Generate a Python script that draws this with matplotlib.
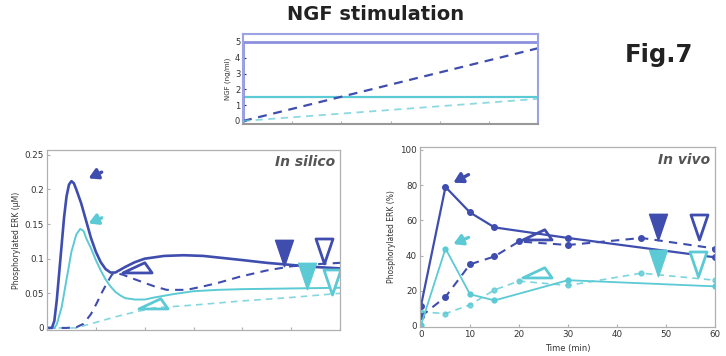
import matplotlib
matplotlib.use("Agg")
import matplotlib.pyplot as plt
from matplotlib.path import Path
import numpy as np

DARK = "#3f4dae"
CYAN = "#5ccad4"
GRID = "#b0b0b0"
TXT = "#333333"

# ---------------- data ----------------
# NGF stimulation (ng/ml)
ngf_step_t = [0, 0, 60]
ngf_step_high = [0, 5, 5]
ngf_step_low = [0, 1.5, 1.5]
ngf_ramp_t = [0, 60]
ngf_ramp_high = [0, 4.6]
ngf_ramp_low = [0, 1.4]

# In silico (uM)
sil_dark_solid_t = [0, 1, 1.5, 2, 2.5, 3, 3.5, 4, 4.5, 5, 5.5, 6, 7, 8, 9, 10, 11, 12, 13, 14,
                    16, 18, 20, 24, 28, 32, 36, 40, 45, 50, 55, 60]
sil_dark_solid_v = [0, 0, 0.01, 0.04, 0.08, 0.12, 0.16, 0.19, 0.207, 0.212, 0.209, 0.2, 0.18, 0.155,
                    0.13, 0.11, 0.095, 0.085, 0.08, 0.08, 0.088, 0.095, 0.1, 0.104, 0.105, 0.104,
                    0.101, 0.098, 0.094, 0.091, 0.088, 0.086]
sil_cyan_solid_t = [0, 1.5, 2, 3, 4, 5, 6, 6.8, 7.5, 8, 9, 10, 11, 12, 13, 14, 15, 16, 18, 20,
                    22, 26, 30, 35, 40, 50, 60]
sil_cyan_solid_v = [0, 0, 0.005, 0.03, 0.07, 0.11, 0.135, 0.143, 0.14, 0.13, 0.115, 0.098, 0.083,
                    0.07, 0.06, 0.052, 0.047, 0.043, 0.041, 0.041, 0.044, 0.049, 0.053, 0.055,
                    0.056, 0.057, 0.058]
sil_dark_dash_t = [0, 4, 6, 7.5, 9, 10.2, 11.3, 12.3, 13.3, 14, 15.5, 17.7, 20, 22, 24.5, 28.6,
                   32, 35, 39.5, 45, 50, 55, 60]
sil_dark_dash_v = [0, 0, 0.001, 0.006, 0.02, 0.036, 0.052, 0.065, 0.077, 0.079, 0.077, 0.071,
                   0.065, 0.06, 0.055, 0.055, 0.06, 0.065, 0.074, 0.083, 0.089, 0.092, 0.094]
sil_cyan_dash_t = [0, 6, 10, 14, 18, 22, 30, 40, 50, 60]
sil_cyan_dash_v = [0, 0, 0.008, 0.016, 0.023, 0.029, 0.033, 0.039, 0.044, 0.05]

# In vivo (%)
viv_dark_solid_t = [0, 5, 10, 15, 30, 60]
viv_dark_solid_v = [11.5, 79, 64.5, 56, 50, 39]
viv_dark_dash_t = [0, 5, 10, 15, 20, 30, 45, 60]
viv_dark_dash_v = [5.5, 16.5, 35, 39.5, 48, 46, 50, 44]
viv_cyan_solid_t = [0, 5, 10, 15, 30, 60]
viv_cyan_solid_v = [0.5, 44, 18, 14.5, 26, 22.5]
viv_cyan_dash_t = [0, 5, 10, 15, 20, 30, 45, 60]
viv_cyan_dash_v = [8, 7, 12, 20.5, 25.5, 23, 30, 26]

# annotation markers: (t, value)
sil_down = {"dark_fill": (48.5, 0.108), "dark_open": (56.7, 0.111),
            "cyan_fill": (53.3, 0.075), "cyan_open": (58.3, 0.067)}
sil_left = {"dark": (18.4, 0.082), "cyan": (21.8, 0.030)}
sil_arrows = {"dark": ((11.2, 0.225), (8.5, 0.216)), "cyan": ((11.2, 0.159), (8.5, 0.151))}
viv_down = {"dark_fill": (48.4, 56), "dark_open": (56.7, 56.5),
            "cyan_fill": (48.3, 35.5), "cyan_open": (56.6, 35)}
viv_left = {"dark": (23.6, 50), "cyan": (23.6, 28.5)}
viv_arrows = {"dark": ((9.7, 86), (6.6, 81.4)), "cyan": ((9.7, 50.3), (6.6, 46.5))}

time_ticks = [0, 10, 20, 30, 40, 50, 60]

# ---------------- markers ----------------
down_tri = Path([(-0.68, 1), (0.68, 1), (0, -1), (-0.68, 1)],
                [Path.MOVETO, Path.LINETO, Path.LINETO, Path.CLOSEPOLY])
left_tri = Path([(-1, -0.1), (0.5, 0.6), (1, -0.1), (-1, -0.1)],
                [Path.MOVETO, Path.LINETO, Path.LINETO, Path.CLOSEPOLY])

fig = plt.figure(figsize=(7.26, 3.56), dpi=100)

# ---------------- top NGF panel ----------------
ax0 = fig.add_axes([243 / 726, 1 - 124 / 356, 295 / 726, 90 / 356])
ax0.plot(ngf_step_t, ngf_step_low, color=CYAN, lw=1.6)
ax0.plot(ngf_step_t, ngf_step_high, color="#8a90dc", lw=2.0)
ax0.plot(ngf_ramp_t, ngf_ramp_high, color=DARK, lw=1.6, ls=(0, (4, 3)))
ax0.plot(ngf_ramp_t, ngf_ramp_low, color=CYAN, lw=1.3, ls=(0, (4, 3)), alpha=0.7)
ax0.set_xlim(0, 60)
ax0.set_ylim(-0.19, 5.5)
ax0.set_xticks(time_ticks)
ax0.set_xticklabels([])
ax0.set_yticks([0, 1, 2, 3, 4, 5])
ax0.tick_params(axis="both", direction="in", length=2, labelsize=6, colors=TXT, pad=2)
ax0.tick_params(axis="x", colors=GRID)
for s in ["top", "left", "right"]:
    ax0.spines[s].set_color("#9da2e2")
    ax0.spines[s].set_linewidth(1.5)
ax0.spines["bottom"].set_color("#999999")
ax0.spines["bottom"].set_linewidth(1.5)
ax0.set_ylabel("NGF (ng/ml)", fontsize=5, color=TXT, labelpad=3)

fig.text(376 / 726, 1 - 15 / 356, "NGF stimulation", ha="center", va="center",
         fontsize=14, fontweight="bold", color="#222222")
fig.text(659 / 726, 1 - 55 / 356, "Fig.7", ha="center", va="center",
         fontsize=17.5, fontweight="bold", color="#222222")


def style_bottom(ax):
    for s in ax.spines.values():
        s.set_color(GRID)
        s.set_linewidth(0.9)
    ax.tick_params(axis="both", direction="in", length=2, labelsize=6.3, colors=TXT, pad=2)
    ax.tick_params(axis="both", color=GRID)


def add_marks(ax, downs, lefts, arrows):
    x, y = downs["dark_fill"]
    ax.plot([x], [y], marker=down_tri, ms=19, color=DARK, mec=DARK, ls="none")
    x, y = downs["dark_open"]
    ax.plot([x], [y], marker=down_tri, ms=18, mfc="white", mec=DARK, mew=2.0, ls="none")
    x, y = downs["cyan_fill"]
    ax.plot([x], [y], marker=down_tri, ms=19, color=CYAN, mec=CYAN, ls="none")
    x, y = downs["cyan_open"]
    ax.plot([x], [y], marker=down_tri, ms=18, mfc="white", mec=CYAN, mew=2.0, ls="none")
    x, y = lefts["dark"]
    ax.plot([x], [y], marker=left_tri, ms=21, mfc="none", mec=DARK, mew=2.0, ls="none")
    x, y = lefts["cyan"]
    ax.plot([x], [y], marker=left_tri, ms=21, mfc="none", mec=CYAN, mew=2.0, ls="none")
    for key, col in [("dark", DARK), ("cyan", CYAN)]:
        tail, tip = arrows[key]
        ax.annotate("", xy=tip, xytext=tail,
                    arrowprops=dict(arrowstyle="-|>,head_length=0.55,head_width=0.32",
                                    color=col, lw=2.4, shrinkA=0, shrinkB=0))


# ---------------- in silico ----------------
ax1 = fig.add_axes([47 / 726, 1 - 330 / 356, 293 / 726, 180 / 356])
ax1.plot(sil_cyan_dash_t, sil_cyan_dash_v, color=CYAN, lw=1.2, ls=(0, (4, 3)), alpha=0.75)
ax1.plot(sil_dark_dash_t, sil_dark_dash_v, color=DARK, lw=1.5, ls=(0, (4, 3)))
ax1.plot(sil_cyan_solid_t, sil_cyan_solid_v, color=CYAN, lw=1.4)
ax1.plot(sil_dark_solid_t, sil_dark_solid_v, color=DARK, lw=1.9)
add_marks(ax1, sil_down, sil_left, sil_arrows)
ax1.set_xlim(0, 60)
ax1.set_ylim(-0.003, 0.257)
ax1.set_xticks(time_ticks)
ax1.set_xticklabels([])
ax1.set_yticks([0, 0.05, 0.1, 0.15, 0.2, 0.25])
ax1.set_yticklabels(["0", "0.05", "0.1", "0.15", "0.2", "0.25"])
style_bottom(ax1)
ax1.set_ylabel("Phosphorylated ERK (\u03bcM)", fontsize=5.5, color=TXT, labelpad=3)
ax1.text(0.983, 0.933, "In silico", transform=ax1.transAxes, ha="right", va="center",
         fontsize=10, fontweight="bold", fontstyle="italic", color="#555555")

# ---------------- in vivo ----------------
ax2 = fig.add_axes([420 / 726, 1 - 327 / 356, 295 / 726, 180 / 356])
ax2.plot(viv_cyan_dash_t, viv_cyan_dash_v, color=CYAN, lw=1.2, ls=(0, (4, 3)), alpha=0.8,
         marker="o", ms=3.5)
ax2.plot(viv_dark_dash_t, viv_dark_dash_v, color=DARK, lw=1.5, ls=(0, (4, 3)),
         marker="o", ms=4)
ax2.plot(viv_cyan_solid_t, viv_cyan_solid_v, color=CYAN, lw=1.3, marker="o", ms=3.5)
ax2.plot(viv_dark_solid_t, viv_dark_solid_v, color=DARK, lw=1.6, marker="o", ms=4)
add_marks(ax2, viv_down, viv_left, viv_arrows)
ax2.set_xlim(-0.2, 60)
ax2.set_ylim(-0.6, 101.7)
ax2.set_xticks(time_ticks)
ax2.set_yticks([0, 20, 40, 60, 80, 100])
style_bottom(ax2)
ax2.set_ylabel("Phosphorylated ERK (%)", fontsize=5.5, color=TXT, labelpad=3)
ax2.set_xlabel("Time (min)", fontsize=6, color=TXT, labelpad=4)
ax2.text(0.983, 0.928, "In vivo", transform=ax2.transAxes, ha="right", va="center",
         fontsize=10, fontweight="bold", fontstyle="italic", color="#555555")

fig.savefig("out.png", dpi=100)
